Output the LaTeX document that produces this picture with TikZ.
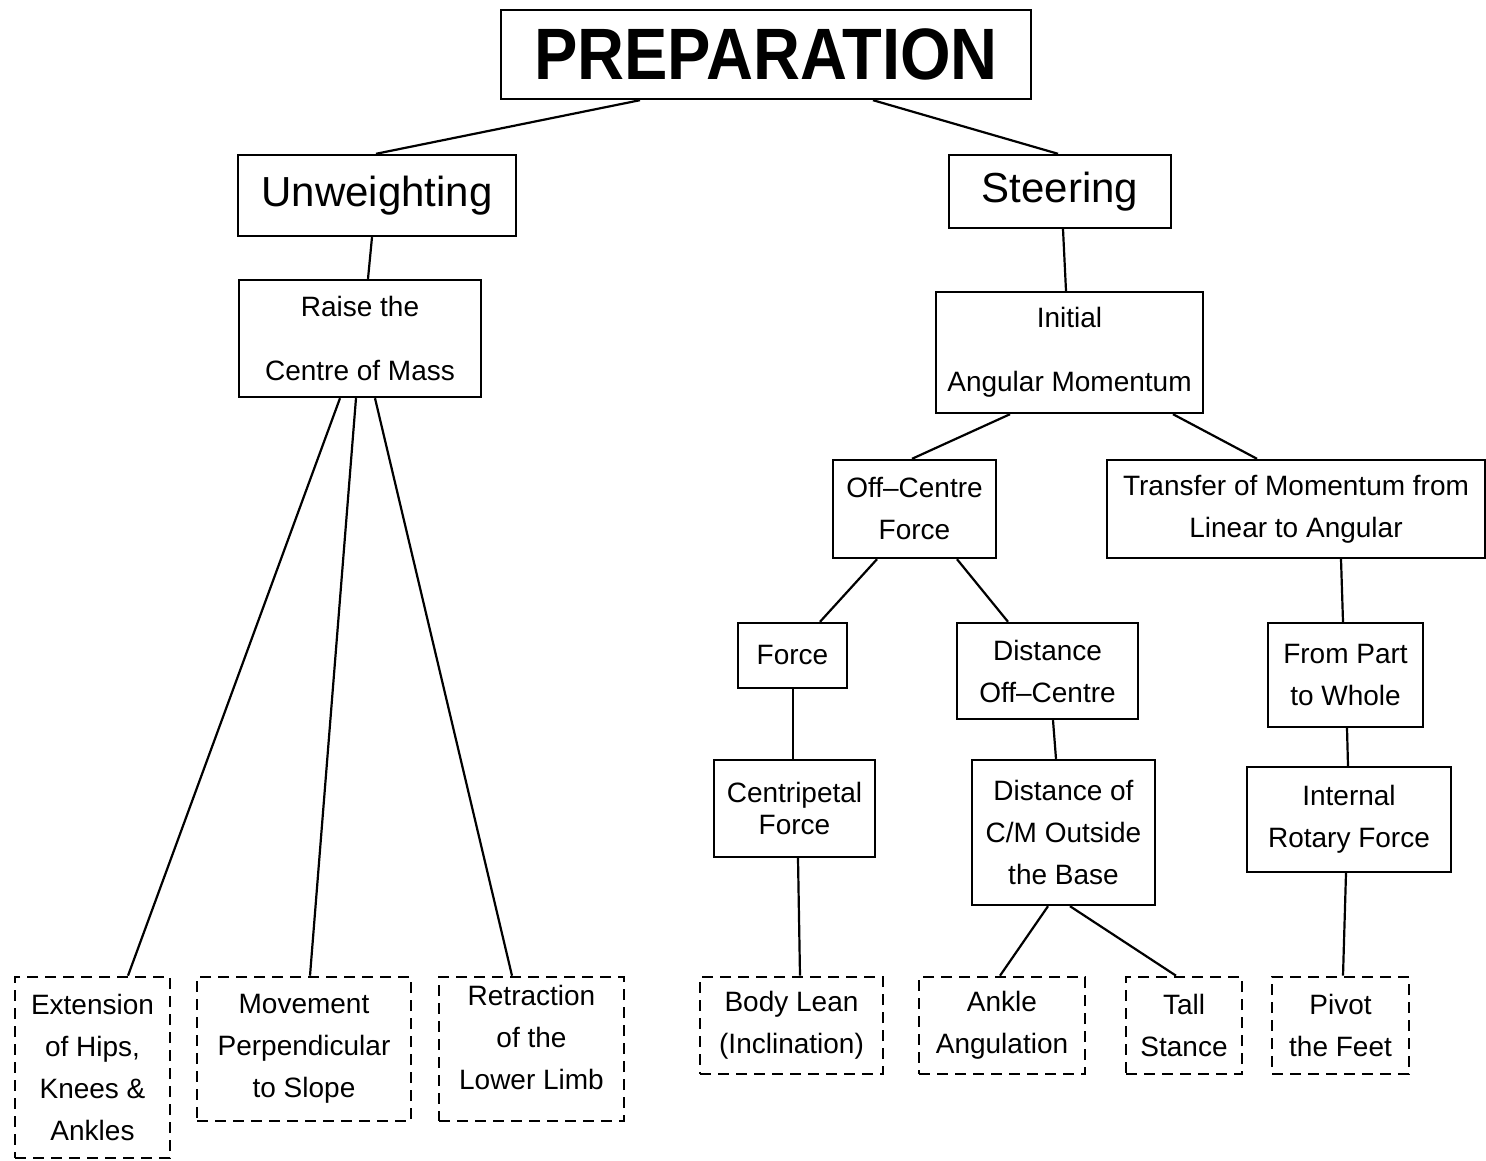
\documentclass[tikz,border=0pt]{standalone}
\usepackage{fontspec}
\setmainfont{Liberation Sans}
\begin{document}
\begin{tikzpicture}[x=1pt,y=-1pt,
  box/.style={draw, line width=2.4pt, inner sep=0pt, align=center,
    font=\fontsize{28}{42}\selectfont},
  dbox/.style={box, line width=2.6pt, dash pattern=on 11pt off 7pt},
  link/.style={line width=2.2pt}]
\useasboundingbox (0,0) rectangle (1486,1161);

% top level
\node[box, minimum width=530pt, minimum height=89pt,
  font=\fontsize{65}{70}\selectfont\bfseries] (prep) at (766,54.5)
  {\scalebox{1}[1.12]{PREPARATION}};
\node[box, minimum width=278pt, minimum height=81pt,
  font=\fontsize{42}{48}\selectfont] (unw) at (377,195.5) {Unweighting};
\node[box, minimum width=222pt, minimum height=73pt,
  font=\fontsize{42}{48}\selectfont] (steer) at (1060,191.5) {Steering};

% unweighting branch
\node[box, minimum width=242pt, minimum height=117pt] (raise) at (360,338.5)
  {Raise the\\[22pt]Centre of Mass};
\node[dbox, minimum width=155pt, minimum height=181pt] (ext) at (92.5,1067.5)
  {Extension\\of Hips,\\Knees \&\\Ankles};
\node[dbox, minimum width=214pt, minimum height=144pt] (move) at (304,1049)
  {Movement\\Perpendicular\\to Slope};
\node[dbox, minimum width=185pt, minimum height=144pt] (retr) at (531.5,1049)
  {Retraction\\of the\\Lower Limb\\[-18pt]\mbox{}};

% steering branch
\node[box, minimum width=267pt, minimum height=121pt] (init) at (1069.5,352.5)
  {Initial\\[22pt]Angular Momentum};
\node[box, minimum width=163pt, minimum height=98pt] (offc) at (914.5,509)
  {Off--Centre\\Force};
\node[box, minimum width=378pt, minimum height=98pt] (trans) at (1296,509)
  {Transfer of Momentum from\\Linear to Angular};
\node[box, minimum width=109pt, minimum height=65pt] (force) at (792.5,655.5)
  {Force};
\node[box, minimum width=181pt, minimum height=96pt] (distoff) at (1047.5,671)
  {Distance\\Off--Centre};
\node[box, minimum width=155pt, minimum height=104pt] (part) at (1345.5,675)
  {From Part\\to Whole};
\node[box, minimum width=161pt, minimum height=97pt] (centri) at (794.5,808.5)
  {Centripetal\\[-10pt]Force};
\node[box, minimum width=183pt, minimum height=145pt] (distcm) at (1063.5,832.5)
  {Distance of\\C/M Outside\\the Base};
\node[box, minimum width=204pt, minimum height=105pt] (rotary) at (1349,819.5)
  {Internal\\Rotary Force};
\node[dbox, minimum width=183pt, minimum height=97pt] (lean) at (791.5,1025.5)
  {Body Lean\\(Inclination)};
\node[dbox, minimum width=166pt, minimum height=97pt] (ankle) at (1002,1025.5)
  {Ankle\\Angulation};
\node[dbox, minimum width=116pt, minimum height=97pt] (tall) at (1184,1025.5)
  {Tall\\Stance};
\node[dbox, minimum width=137pt, minimum height=97pt] (pivot) at (1340.5,1025.5)
  {Pivot\\the Feet};

% connectors
\draw[link] ([xshift=-126pt]prep.south) -- ([xshift=-1pt]unw.north);
\draw[link] ([xshift=107pt]prep.south) -- ([xshift=-2pt]steer.north);
\draw[link] ([xshift=-5pt]unw.south) -- ([xshift=8pt]raise.north);
\draw[link] ([xshift=3pt]steer.south) -- ([xshift=-3.5pt]init.north);
\draw[link] ([xshift=-20pt]raise.south) -- ([xshift=35.5pt]ext.north);
\draw[link] ([xshift=-4pt]raise.south) -- ([xshift=6pt]move.north);
\draw[link] ([xshift=15pt]raise.south) -- ([xshift=-19.5pt]retr.north);
\draw[link] ([xshift=-59.5pt]init.south) -- ([xshift=-2.5pt]offc.north);
\draw[link] ([xshift=103.5pt]init.south) -- ([xshift=-39pt]trans.north);
\draw[link] ([xshift=-37.5pt]offc.south) -- ([xshift=27.5pt]force.north);
\draw[link] ([xshift=42.5pt]offc.south) -- ([xshift=-39.5pt]distoff.north);
\draw[link] ([xshift=45pt]trans.south) -- ([xshift=-2.5pt]part.north);
\draw[link] ([xshift=0.5pt]force.south) -- ([xshift=-1.5pt]centri.north);
\draw[link] ([xshift=5.5pt]distoff.south) -- ([xshift=-7.5pt]distcm.north);
\draw[link] ([xshift=1.5pt]part.south) -- ([xshift=-1pt]rotary.north);
\draw[link] ([xshift=3.5pt]centri.south) -- ([xshift=8.5pt]lean.north);
\draw[link] ([xshift=-15.5pt]distcm.south) -- ([xshift=-2pt]ankle.north);
\draw[link] ([xshift=6.5pt]distcm.south) -- ([xshift=-8pt]tall.north);
\draw[link] ([xshift=-3pt]rotary.south) -- ([xshift=2.5pt]pivot.north);
\end{tikzpicture}
\end{document}
